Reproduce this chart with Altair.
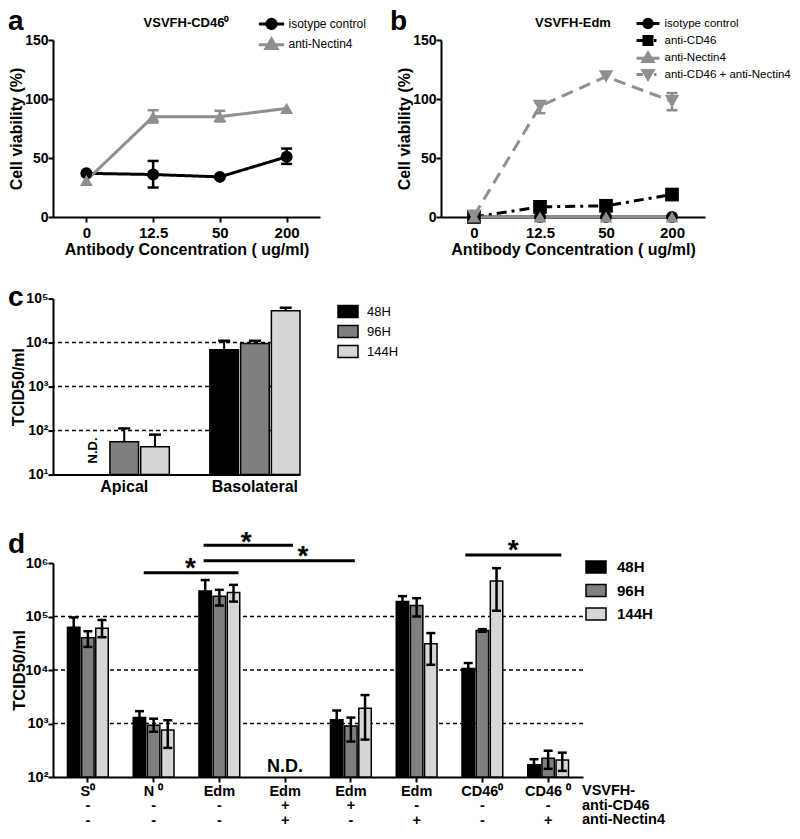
import json
import altair as alt
import pandas as pd

FONT = "Liberation Sans"
GRAY = "#8f8f8f"
SUP = ["⁰", "¹", "²", "³", "⁴", "⁵", "⁶"]

# ---------------- panel a : VSVFH-CD46⁰ ----------------
conc = ["0", "12.5", "50", "200"]
a_series = ["isotype control", "anti-Nectin4"]
a_isotype = [37, 36, 34, 51]
a_isotype_lo = [None, 25, None, 45]
a_isotype_hi = [None, 47.5, None, 58]
a_nectin4 = [31, 85, 85, 92]
a_nectin4_lo = [None, 80, 81, None]
a_nectin4_hi = [None, 90.5, 90, None]

# ---------------- panel b : VSVFH-Edm ----------------
b_series = ["isotype control", "anti-CD46", "anti-Nectin4", "anti-CD46 + anti-Nectin4"]
b_isotype = [0, 0, 0, 0]
b_cd46 = [0, 8.6, 9.5, 19]
b_nectin4 = [0, 0, 0, 0]
b_both = [1, 94, 119, 98]
b_both_lo = [None, 88, None, 90.5]
b_both_hi = [None, 97, None, 105]
no_err = [None, None, None, None]

# ---------------- panel c ----------------
c_groups = ["Apical", "Basolateral"]
times = ["48H", "96H", "144H"]
c_48h = [None, 6900]
c_48h_hi = [None, 11000]
c_96h = [56, 9500]
c_96h_hi = [112, 11000]
c_144h = [43, 53000]
c_144h_hi = [81, 62000]
c_grid = [100, 1000, 10000]

# ---------------- panel d ----------------
d_keys = ["0", "1", "2", "3", "4", "5", "6", "7"]
d_virus = ["S⁰", "N ⁰", "Edm", "Edm", "Edm", "Edm", "CD46⁰", "CD46 ⁰"]
d_anti_cd46 = ["-", "-", "-", "+", "+", "-", "-", "-"]
d_anti_nectin4 = ["-", "-", "-", "+", "-", "+", "-", "+"]
d_48h = [63000, 1300, 300000, None, 1180, 190000, 10700, 170]
d_48h_hi = [96000, 1700, 480000, None, 1750, 240000, 13500, 215]
d_96h = [40000, 930, 240000, None, 900, 160000, 55000, 225]
d_96h_lo = [27000, 700, 160000, None, 460, 100000, 52000, 142]
d_96h_hi = [53000, 1230, 315000, None, 1290, 220000, 58000, 310]
d_144h = [60000, 760, 280000, None, 1930, 31000, 460000, 207]
d_144h_lo = [41000, 350, 190000, None, 500, 12500, 128000, 130]
d_144h_hi = [86000, 1150, 390000, None, 3400, 49000, 800000, 285]
d_grid = [1000, 10000, 100000]
# significance bars (x in group-index units, y in TCID50/ml)
sig_x1 = [0.85, 1.76, 1.76, 5.74]
sig_x2 = [2.29, 3.12, 4.06, 7.20]
sig_y = [10 ** 5.82, 10 ** 6.33, 10 ** 6.04, 10 ** 6.15]
star_x = [1.56, 2.41, 3.27, 6.47]
star_y = [10 ** 6.02, 10 ** 6.51, 10 ** 6.24, 10 ** 6.35]

bar_colors = ["#000000", "#7f7f7f", "#d6d6d6"]
log_label = "'10' + " + json.dumps(SUP, ensure_ascii=False) + "[round(log(datum.value)/LN10)]"


def text_at(s, x, y, size, align="left", weight="bold"):
    return alt.Chart(pd.DataFrame({"t": [s]})).mark_text(
        font=FONT, fontSize=size, fontWeight=weight, align=align, baseline="alphabetic", color="black"
    ).encode(text="t:N", x=alt.value(x), y=alt.value(y))


def letter(ch, x, y):
    return text_at(ch, x, y, 28)


def line_panel(series, vals, los, his, colors, shapes, sizes, dashes, paths, title, w, h,
               letter_ch, letter_x, leg_x, leg_y, leg_size, leg_off, leg_pad, leg_font):
    rows, errs, caps = [], [], []
    for s, v, lo, hi in zip(series, vals, los, his):
        for c, vv, l, u in zip(conc, v, lo, hi):
            rows.append({"conc": c, "series": s, "v": vv})
            if l is not None:
                errs.append({"conc": c, "series": s, "lo": l, "hi": u})
                caps.append({"conc": c, "series": s, "v": l})
                caps.append({"conc": c, "series": s, "v": u})
    df = pd.DataFrame(rows)
    x = alt.X("conc:O", sort=conc, scale=alt.Scale(type="point", padding=0.5),
              axis=alt.Axis(title="Antibody Concentration ( ug/ml)", labelAngle=0, labelPadding=3,
                            titlePadding=1))
    y_scale = alt.Scale(domain=[0, 150], nice=False)
    y_axis = alt.Axis(values=[0, 50, 100, 150], title="Cell viability (%)", titlePadding=0,
                      labelPadding=0, labelFontSize=14)
    y = alt.Y("v:Q", scale=y_scale, axis=y_axis)
    color_scale = alt.Scale(domain=series, range=colors)
    legend = alt.Legend(
        title=None, orient="none", legendX=leg_x, legendY=leg_y, padding=0,
        labelFont=FONT, labelFontSize=leg_font, labelColor="black", labelFontWeight="normal",
        symbolSize=leg_size, labelOffset=leg_off, rowPadding=leg_pad, symbolStrokeWidth=3,
        symbolOpacity=1,
    )
    layers = []
    for s, col, dash in zip(series, colors, dashes):
        layers.append(
            alt.Chart(df).transform_filter(alt.datum.series == s).mark_line(
                strokeWidth=3, color=col, strokeDash=dash).encode(x=x, y=y))
    points = alt.Chart(df).mark_point(filled=True, opacity=1, strokeWidth=0).encode(
        x=x, y=y,
        color=alt.Color("series:N", scale=color_scale, legend=None),
        shape=alt.Shape("series:N", scale=alt.Scale(domain=series, range=shapes), legend=None),
        size=alt.Size("series:N", scale=alt.Scale(domain=series, range=sizes), legend=None),
    )
    # legend-only layer (no rows): line+marker glyphs for the legend
    leg_layer = alt.Chart(pd.DataFrame({"series": pd.Series([], dtype=str)})).mark_point(
        filled=True, opacity=1).encode(
        color=alt.Color("series:N", scale=alt.Scale(domain=series, range=colors), legend=legend),
        stroke=alt.Stroke("series:N", scale=alt.Scale(domain=series, range=colors), legend=legend),
        shape=alt.Shape("series:N", scale=alt.Scale(domain=series, range=paths), legend=legend),
    )
    if errs:
        edf = pd.DataFrame(errs)
        cdf = pd.DataFrame(caps)
        rules = alt.Chart(edf).mark_rule(strokeWidth=2.5).encode(
            x=x, y=alt.Y("lo:Q", scale=y_scale, axis=y_axis), y2="hi:Q",
            color=alt.Color("series:N", scale=color_scale, legend=None))
        ticks = alt.Chart(cdf).mark_tick(size=11, thickness=2.5, opacity=1).encode(
            x=x, y=alt.Y("v:Q", scale=y_scale, axis=y_axis),
            color=alt.Color("series:N", scale=color_scale, legend=None))
        layers += [rules, ticks]
    layers += [points, leg_layer, letter(letter_ch, letter_x, -10),
               text_at(title, w / 2, -13, 13, align="center")]
    return alt.layer(*layers).resolve_scale(
        color="independent", shape="independent", stroke="independent"
    ).properties(width=w, height=h)


P_CIRCLE = "M-2.3,0H2.3M0.85,0A0.85,0.85,0,1,1,-0.85,0A0.85,0.85,0,1,1,0.85,0Z"
P_TRI_UP = "M-2.3,0.15H2.3M0,-0.9L1,0.8L-1,0.8Z"
P_SQUARE = "M-2.3,0H-0.8M1.2,0H1.7M-0.8,-0.8H0.8V0.8H-0.8Z"
P_TRI_DOWN = "M-2.3,0H-1M1.2,0H1.7M-1,-0.8L1,-0.8L0,0.9Z"

panel_a = line_panel(
    a_series, [a_isotype, a_nectin4], [a_isotype_lo, a_nectin4_lo], [a_isotype_hi, a_nectin4_hi],
    ["black", GRAY], ["circle", "triangle-up"], [144, 210], [[1, 0], [1, 0]],
    [P_CIRCLE, P_TRI_UP], "VSVFH-CD46⁰", 267, 177, "a", -45, 211.5, -23, 121, 10, -2, 12)

panel_b = line_panel(
    b_series, [b_isotype, b_cd46, b_nectin4, b_both], [no_err, no_err, no_err, b_both_lo],
    [no_err, no_err, no_err, b_both_hi],
    ["black", "black", GRAY, GRAY], ["circle", "square", "triangle-up", "triangle-down"],
    [144, 170, 210, 260], [[1, 0], [10, 5, 3, 5], [1, 0], [12, 7]],
    [P_CIRCLE, P_SQUARE, P_TRI_UP, P_TRI_DOWN], "VSVFH-Edm", 264, 177, "b", -51, 200.5, -23, 100, 10, -4.1,
    11.5)

top_row = alt.hconcat(panel_a, panel_b, spacing=23)

# ---------------- panel c chart ----------------
c_rows, c_err, c_cap = [], [], []
for t, vals, his in zip(times, [c_48h, c_96h, c_144h], [c_48h_hi, c_96h_hi, c_144h_hi]):
    for g, v, hi in zip(c_groups, vals, his):
        if v is None:
            continue
        c_rows.append({"g": g, "t": t, "v": v})
        c_err.append({"g": g, "t": t, "lo": v, "hi": hi})
        c_cap.append({"g": g, "t": t, "v": hi})
c_df = pd.DataFrame(c_rows)
CW, CH = 247, 176
c_x = alt.X("g:N", sort=c_groups, scale=alt.Scale(domain=c_groups, paddingInner=0.31, paddingOuter=0.1, align=1),
            axis=alt.Axis(title=None, ticks=False, labelAngle=0, labelFontSize=16, labelPadding=4))
c_xo = alt.XOffset("t:N", sort=times, scale=alt.Scale(domain=times, paddingInner=0.07, paddingOuter=0))
c_y_scale = alt.Scale(type="log", domain=[10, 100000], nice=False)
c_legend = alt.Legend(title=None, orient="none", legendX=CW + 37, legendY=2, padding=0,
                      labelFont=FONT, labelFontSize=13, labelFontWeight="normal", labelColor="black",
                      symbolType="M-1,-0.6H1V0.6H-1Z", symbolSize=400, symbolStrokeColor="black",
                      symbolStrokeWidth=1.5, labelOffset=8, rowPadding=0)
c_grid_layer = alt.Chart(pd.DataFrame({"v": c_grid})).mark_rule(
    strokeDash=[4, 3], strokeWidth=1.5, color="black").encode(
    y=alt.Y("v:Q", scale=c_y_scale,
            axis=alt.Axis(values=[10, 100, 1000, 10000, 100000], labelExpr=log_label, title="TCID50/ml",
                          titleFontSize=16, titlePadding=-1, labelPadding=0, labelFontSize=14)))
c_bars = alt.Chart(c_df).mark_bar(stroke="black", strokeWidth=1.5).encode(
    x=c_x, xOffset=c_xo, y=alt.Y("v:Q", scale=c_y_scale), y2=alt.datum(10),
    color=alt.Color("t:N", sort=times, scale=alt.Scale(domain=times, range=bar_colors), legend=c_legend))
c_rules = alt.Chart(pd.DataFrame(c_err)).mark_rule(strokeWidth=2, color="black").encode(
    x=c_x, xOffset=c_xo, y=alt.Y("lo:Q", scale=c_y_scale), y2="hi:Q")
c_caps = alt.Chart(pd.DataFrame(c_cap)).mark_tick(size=12, thickness=2.5, color="black", opacity=1).encode(
    x=c_x, xOffset=c_xo, y=alt.Y("v:Q", scale=c_y_scale))
c_nd = alt.Chart(pd.DataFrame({"g": ["Apical"], "t": ["48H"], "v": [24.5], "s": ["N.D."]})).mark_text(
    font=FONT, fontSize=13, fontWeight="bold", angle=270, align="center", baseline="middle", dx=7, color="black"
).encode(x=c_x, xOffset=c_xo, y=alt.Y("v:Q", scale=c_y_scale), text="s:N")
panel_c = alt.layer(c_grid_layer, c_bars, c_rules, c_caps, c_nd, letter("c", -45, 7)).properties(
    width=CW, height=CH)

# ---------------- panel d chart ----------------
d_rows, d_err, d_cap = [], [], []
for t, vals, los, his in zip(times, [d_48h, d_96h, d_144h], [[None] * 8, d_96h_lo, d_144h_lo],
                             [d_48h_hi, d_96h_hi, d_144h_hi]):
    for k, v, lo, hi in zip(d_keys, vals, los, his):
        if v is None:
            continue
        d_rows.append({"g": k, "t": t, "v": v})
        d_err.append({"g": k, "t": t, "lo": lo if lo is not None else v, "hi": hi})
        d_cap.append({"g": k, "t": t, "v": hi})
        if lo is not None:
            d_cap.append({"g": k, "t": t, "v": lo})
d_df = pd.DataFrame(d_rows)
DW, DH = 530, 214
PI, PO = 0.38, 0.22
LAB_FS, LAB_LH = 14.5, 14.5
label_lines = [[a, b, c] for a, b, c in zip(d_virus, d_anti_cd46, d_anti_nectin4)]
d_label_expr = json.dumps(label_lines, ensure_ascii=False) + "[toNumber(datum.value)]"
d_x = alt.X("g:N", sort=d_keys, scale=alt.Scale(domain=d_keys, paddingInner=PI, paddingOuter=PO),
            axis=alt.Axis(title=None, labelExpr=d_label_expr, labelAngle=0, labelFontSize=LAB_FS,
                          labelLineHeight=LAB_LH, labelBaseline="top", labelPadding=2, ticks=True))
d_xo = alt.XOffset("t:N", sort=times, scale=alt.Scale(domain=times, paddingInner=0.12, paddingOuter=0))
d_y_scale = alt.Scale(type="log", domain=[100, 1000000], nice=False)
d_legend = alt.Legend(title=None, orient="none", legendX=DW + 2, legendY=-7, padding=0,
                      labelFont=FONT, labelFontSize=15, labelFontWeight="bold", labelColor="black",
                      symbolType="M-1,-0.6H1V0.6H-1Z", symbolSize=400, symbolStrokeColor="black",
                      symbolStrokeWidth=1.5, labelOffset=10, rowPadding=3.5)
d_grid_layer = alt.Chart(pd.DataFrame({"v": d_grid})).mark_rule(
    strokeDash=[4, 3], strokeWidth=1.5, color="black").encode(
    y=alt.Y("v:Q", scale=d_y_scale,
            axis=alt.Axis(values=[100, 1000, 10000, 100000, 1000000], labelExpr=log_label, title="TCID50/ml",
                          titleFontSize=16.5, titlePadding=-3, labelPadding=0, labelFontSize=14.5)))
d_bars = alt.Chart(d_df).mark_bar(stroke="black", strokeWidth=1.5).encode(
    x=d_x, xOffset=d_xo, y=alt.Y("v:Q", scale=d_y_scale), y2=alt.datum(100),
    color=alt.Color("t:N", sort=times, scale=alt.Scale(domain=times, range=bar_colors), legend=d_legend))
d_rules = alt.Chart(pd.DataFrame(d_err)).mark_rule(strokeWidth=2.5, color="black").encode(
    x=d_x, xOffset=d_xo, y=alt.Y("lo:Q", scale=d_y_scale), y2="hi:Q")
d_caps = alt.Chart(pd.DataFrame(d_cap)).mark_tick(size=9, thickness=2.5, color="black", opacity=1).encode(
    x=d_x, xOffset=d_xo, y=alt.Y("v:Q", scale=d_y_scale))
d_nd = alt.Chart(pd.DataFrame({"g": ["3"], "v": [152], "s": ["N.D."]})).mark_text(
    font=FONT, fontSize=18, fontWeight="bold", align="center", baseline="middle", color="black"
).encode(x=d_x, y=alt.Y("v:Q", scale=d_y_scale), text="s:N")
d_rowlabels = alt.Chart(pd.DataFrame({"s": ["VSVFH-\nanti-CD46\nanti-Nectin4"]})).mark_text(
    font=FONT, fontSize=LAB_FS, fontWeight="bold", align="left", baseline="top", lineBreak="\n",
    lineHeight=LAB_LH, color="black"
).encode(x=alt.value(DW - 1), y=alt.value(DH + 7), text="s:N")

half = PO + 0.5 - PI / 2
sig_scale = alt.Scale(domain=[-half, 7 + half], nice=False, zero=False)
d_sig = alt.Chart(pd.DataFrame({"x1": sig_x1, "x2": sig_x2, "y": sig_y})).mark_rule(
    strokeWidth=3, color="black").encode(
    x=alt.X("x1:Q", scale=sig_scale, axis=None), x2="x2:Q", y=alt.Y("y:Q", scale=d_y_scale))
d_star = alt.Chart(pd.DataFrame({"x": star_x, "y": star_y, "s": ["*"] * 4})).mark_text(
    font=FONT, fontSize=28, fontWeight="bold", align="center", baseline="alphabetic", dy=15, color="black"
).encode(x=alt.X("x:Q", scale=sig_scale, axis=None), y=alt.Y("y:Q", scale=d_y_scale), text="s:N")

d_main = alt.layer(d_grid_layer, d_bars, d_rules, d_caps, d_nd, d_rowlabels, letter("d", -45, -10))
d_annot = alt.layer(d_sig, d_star)
panel_d = alt.layer(d_main, d_annot).resolve_scale(x="independent").properties(width=DW, height=DH)

upper = alt.vconcat(top_row, panel_c, spacing=26.6).resolve_scale(
    color="independent", xOffset="independent").resolve_legend(color="independent")
chart = alt.vconcat(upper, panel_d, spacing=33).resolve_scale(
    color="independent", xOffset="independent").resolve_legend(color="independent").properties(
    padding=0
).configure_view(stroke=None).configure_axis(
    labelFont=FONT, titleFont=FONT, labelFontSize=15, titleFontSize=16, labelFontWeight="bold",
    titleFontWeight="bold", labelColor="black", titleColor="black", domainColor="black", domainWidth=2,
    tickColor="black", tickWidth=2, tickSize=5, grid=False
)

chart.save("out.html", embed_options={"renderer": "svg", "actions": False})
